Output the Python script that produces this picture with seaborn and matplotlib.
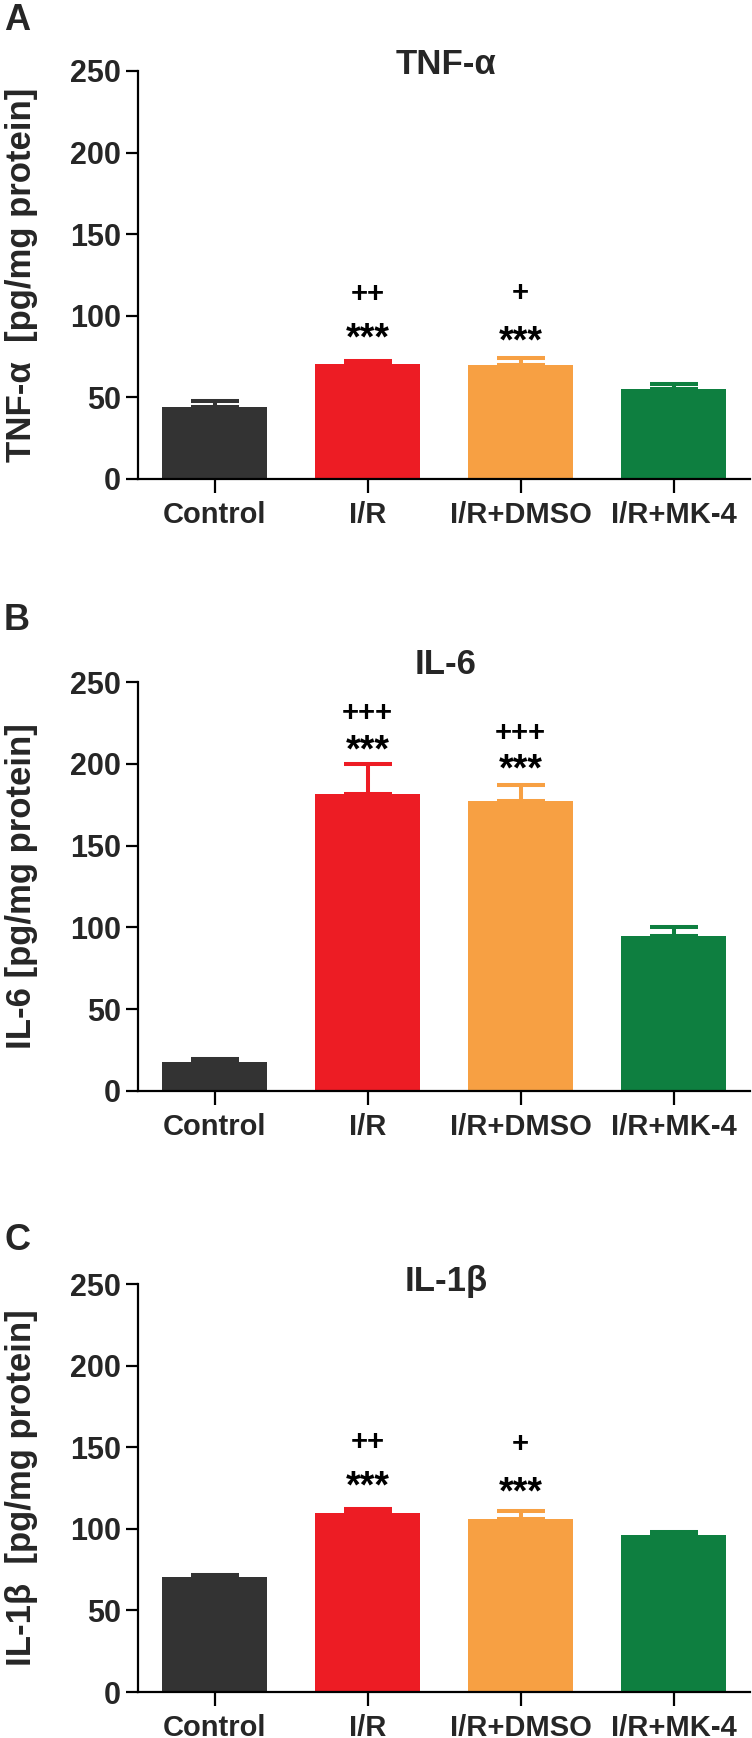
import numpy as np
import pandas as pd
import matplotlib
matplotlib.use("Agg")
import matplotlib.pyplot as plt
import seaborn as sns

# ---------------- data ----------------
groups = ["Control", "I/R", "I/R+DMSO", "I/R+MK-4"]
colors = ["#333333", "#ED1C24", "#F7A043", "#0E7F40"]

tnf_mean = [44.2, 70.3, 69.6, 55.2]
tnf_err = [3.5, 1.9, 4.4, 2.8]

il6_mean = [17.6, 181.7, 177.4, 94.8]
il6_err = [2.1, 18.1, 9.9, 5.4]

il1b_mean = [70.2, 109.7, 106.2, 95.9]
il1b_err = [1.6, 2.6, 4.9, 1.9]

titles = ["TNF-α", "IL-6", "IL-1β"]
ylabels = ["TNF-α  [pg/mg protein]", "IL-6 [pg/mg protein]", "IL-1β  [pg/mg protein]"]
letters = ["A", "B", "C"]
yticks = [0, 50, 100, 150, 200, 250]

star_text = [["", "***", "***", ""], ["", "***", "***", ""], ["", "***", "***", ""]]
plus_text = [["", "++", "+", ""], ["", "+++", "+++", ""], ["", "++", "+", ""]]
# annotation heights (data units, glyph centres)
star_y = [[0, 90.2, 88.7, 0], [0, 212.7, 200.7, 0], [0, 130.3, 126.8, 0]]
plus_y = [[0, 113.2, 113.8, 0], [0, 230.8, 218.8, 0], [0, 152.9, 152.0, 0]]

means = [tnf_mean, il6_mean, il1b_mean]
errs = [tnf_err, il6_err, il1b_err]

# ---------------- style ----------------
sns.set_theme(style="ticks")
plt.rcParams["font.family"] = ["Liberation Sans", "DejaVu Sans"]
plt.rcParams["font.weight"] = "bold"

W, H = 752, 1738
fig = plt.figure(figsize=(W / 100, H / 100), dpi=100)

# axes rectangles in pixels: (left, top, right, bottom)
rects = [(138, 71, 750, 479), (138, 682, 750, 1091), (138, 1284, 750, 1692)]
title_y = [64, 665, 1281]
letter_y = [20, 621, 1241]

STAR_FS = 27
for i in range(3):
    l, t, r, b = rects[i]
    ax = fig.add_axes([l / W, 1 - b / H, (r - l) / W, (b - t) / H])
    df = pd.DataFrame({"group": groups, "value": means[i]})
    sns.barplot(data=df, x="group", y="value", hue="group", palette=colors,
                legend=False, ax=ax, width=0.68, errorbar=None, saturation=1,
                edgecolor="none")
    patches = sorted(ax.patches, key=lambda p: p.get_x())
    for j, p in enumerate(patches):
        xc = p.get_x() + p.get_width() / 2
        ax.errorbar([xc], [means[i][j]], yerr=[[0], [errs[i][j]]],
                    fmt="none", ecolor=colors[j], elinewidth=2.9,
                    capsize=17.5, capthick=2.9, zorder=1)
        if star_text[i][j]:
            ax.annotate(star_text[i][j], (xc, star_y[i][j]),
                        xytext=(0, -0.48 * STAR_FS), textcoords="offset points",
                        ha="center", va="baseline", fontsize=STAR_FS,
                        fontweight="bold", color="black")
        if plus_text[i][j]:
            ax.text(xc, plus_y[i][j], plus_text[i][j], ha="center", va="center",
                    fontsize=21, fontweight="bold", color="black")

    ax.set_xlim(-0.5, 3.5)
    ax.set_ylim(0, 250)
    ax.set_yticks(yticks)
    ax.set_yticklabels([str(v) for v in yticks])
    ax.set_xlabel("")
    ax.set_ylabel("")
    sns.despine(ax=ax)
    for s in ["left", "bottom"]:
        ax.spines[s].set_linewidth(1.6)
        ax.spines[s].set_color("black")
    ax.tick_params(axis="y", length=8.5, width=1.6, pad=4, labelsize=22,
                   direction="out", color="black")
    ax.tick_params(axis="x", length=10, width=1.6, pad=6, labelsize=21,
                   direction="out", color="black")
    for lab in ax.get_xticklabels() + ax.get_yticklabels():
        lab.set_fontweight("bold")

    fig.text(446 / W, 1 - title_y[i] / H, titles[i], ha="center", va="center",
             fontsize=25, fontweight="bold")
    fig.text(17 / W, 1 - letter_y[i] / H, letters[i], ha="center", va="center",
             fontsize=26, fontweight="bold")
    fig.text(22 / W, 1 - ((t + b) / 2) / H, ylabels[i], ha="center", va="center",
             rotation=90, fontsize=25, fontweight="bold")

fig.savefig("out.png", dpi=100, facecolor="white")
